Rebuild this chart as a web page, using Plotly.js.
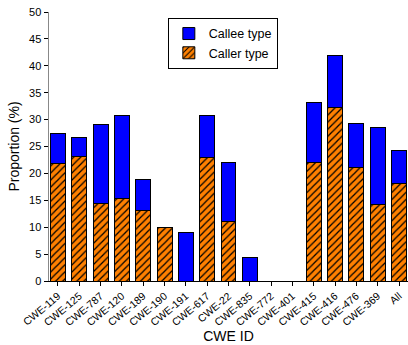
<!DOCTYPE html>
<html><head><meta charset="utf-8">
<script src="https://cdn.plot.ly/plotly-3.0.1.min.js"></script>
<style>body{margin:0;padding:0;background:#fff}#c{width:408px;height:345px}</style>
</head><body><div id="c"></div>
<script>
const categories = ["CWE-119","CWE-125","CWE-787","CWE-120","CWE-189","CWE-190","CWE-191","CWE-617","CWE-22","CWE-835","CWE-772","CWE-401","CWE-415","CWE-416","CWE-476","CWE-369","All"];
const callerValues = [21.9,23.2,14.45,15.3,13.1,9.9,0,23.0,11.0,0,0,0,22.1,32.3,21.15,14.3,18.05];
const calleeValues = [5.6,3.5,14.55,15.5,5.8,0,9.06,7.8,11.1,4.4,0,0,11.15,9.7,8.15,14.3,6.2];
const yTicks = [0,5,10,15,20,25,30,35,40,45,50];

const traces = [
  {type:'bar', name:'Caller type', x:categories, y:callerValues, width:0.7,
   marker:{color:'#FF8000', line:{color:'#000', width:1},
     pattern:{shape:'/', fgcolor:'#000', bgcolor:'#FF8000', size:5, solidity:0.25}}},
  {type:'bar', name:'Callee type', x:categories, y:calleeValues, width:0.7,
   marker:{color:'#0000FF', line:{color:'#000', width:1}}}
];
const layout = {
  barmode:'stack', width:408, height:345,
  margin:{l:49, r:0, t:12, b:64},
  paper_bgcolor:'#fff', plot_bgcolor:'#fff',
  font:{family:'Liberation Sans, Arial, sans-serif', color:'#000'},
  showlegend:true,
  legend:{x:0.331, y:0.978, xanchor:'left', yanchor:'top', traceorder:'reversed',
    bordercolor:'#000', borderwidth:1, bgcolor:'#fff', font:{size:12.5},
    tracegroupgap:0, itemwidth:30},
  xaxis:{type:'category', range:[-0.42,16.42], showline:true, linecolor:'#000', linewidth:1,
    ticks:'outside', ticklen:4, tickcolor:'#000', tickangle:-40, tickfont:{size:10.5},
    showgrid:false, zeroline:false,
    title:{text:'CWE ID', font:{size:14}, standoff:2}},
  yaxis:{range:[0,50], tickvals:yTicks, showline:true, linecolor:'#888', linewidth:1.5,
    ticks:'outside', ticklen:4, tickcolor:'#000', tickfont:{size:11},
    showgrid:false, zeroline:false,
    title:{text:'Proportion (%)', font:{size:14}, standoff:6}}
};
Plotly.newPlot('c', traces, layout, {displayModeBar:false, staticPlot:true});
</script></body></html>
